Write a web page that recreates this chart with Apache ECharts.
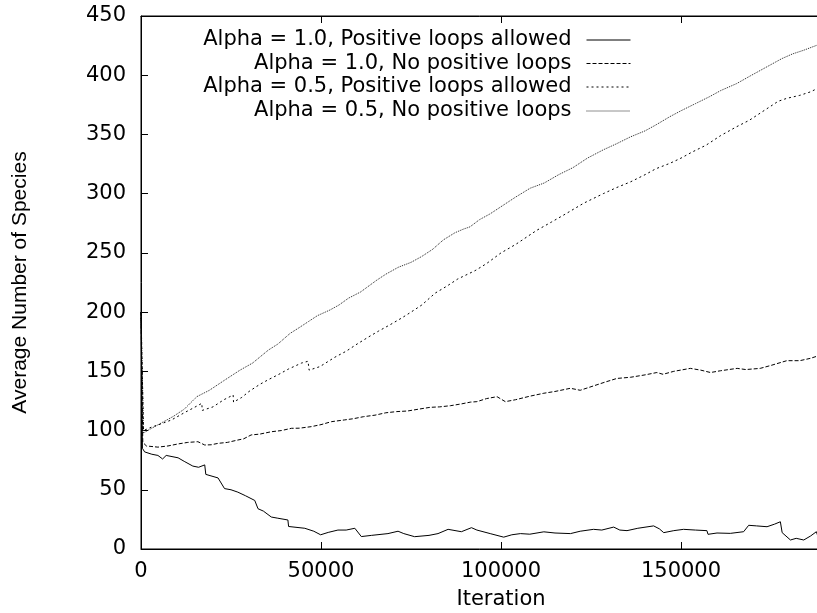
<!DOCTYPE html>
<html>
<head>
<meta charset="utf-8">
<script src="https://cdn.jsdelivr.net/npm/echarts@6/dist/echarts.min.js"></script>
<style>html,body{margin:0;padding:0;background:#fff}#c{width:817px;height:613px}</style>
</head>
<body>
<div id="c"></div>
<script>
const seriesNames = [
  'Alpha = 1.0, Positive loops allowed',
  'Alpha = 1.0, No positive loops',
  'Alpha = 0.5, Positive loops allowed',
  'Alpha = 0.5, No positive loops'
];
const xTickValues = [0, 50000, 100000, 150000, 200000];
const yTickValues = [0, 50, 100, 150, 200, 250, 300, 350, 400, 450];

const s1Iter = [0,400,1000,3000,4700,6000,7000,10300,12000,14400,16000,17700,18000,21400,23200,25000,26900,29000,31600,32500,34000,36200,38000,40800,41000,45500,48000,49900,52000,54700,57000,59400,61200,64000,68600,71400,73000,76000,80000,82500,85300,89000,91800,93300,97000,100750,103000,105400,108000,111900,115000,119300,122000,125700,128000,131300,133000,135000,138000,142400,144000,145200,148000,150700,154000,157200,157500,160000,163700,167400,168800,171000,173900,176000,177600,178100,180400,182000,184100,186000,187600,188000];
const s1Vals = [200,85,82,80,79,76,79,77,74,70,69,71,63,60,51,50,48,45,41,34,32,27,26,24.5,19,17.5,15,12,14,16,16,17.5,10.5,11.5,13,15,13,10.4,11.5,13,16.6,14.6,18,16,13,10,12,13,12.5,14.5,13.5,13,15,16.6,16,18.5,16,15.5,17.5,19.5,17,13.8,15.5,16.6,16,15.5,12.4,13.5,13.2,14.6,20,19.5,18.8,21,23,13.8,7.6,9,7.6,11,14.6,11];

const s2Iter = [0,500,1500,4700,7500,10300,13000,15800,17700,19500,21400,24000,26900,28500,30600,33000,36200,39000,41800,44000,47300,50000,52900,56600,59000,61800,65000,68000,71000,74000,77000,80300,83000,86000,89000,91500,93300,96000,98900,101200,104000,108000,111900,115000,119300,122000,126000,129000,132200,136000,140000,143300,145000,148000,152600,155500,158200,161000,165600,168000,172000,175000,179400,183000,186000,188000];
const s2Vals = [200,90,87,86,87,88.7,90,90.6,87.8,88,89.2,90,92,93,96.3,97,99,100,101.9,102,103.3,105,107.5,109,110,111.7,113,115,116,116.5,118,119.6,120,121,122.5,124,124.4,127,128.6,124.4,126,129,131.5,133,135.7,134,138,141,144,145,147,149,147.5,150,152.5,151,149,150.5,152.5,151.5,152.5,155,159,159,161,163];

const s3Iter = [0,700,3000,5000,8500,12000,14500,16900,17000,20000,23000,25600,25700,28000,30000,33000,35400,38000,41000,44600,46400,46700,49700,53900,57000,60000,63200,66000,69000,72400,75000,78000,81700,85000,88000,92800,96000,100000,104000,109900,114000,118000,123000,128400,132000,136000,140000,143000,146900,150000,153000,157000,161000,165500,169000,172000,175000,177000,179400,183000,186000,188000];
const s3Vals = [200,100,103,105,109,115,119,123,117,120,126,130,124,128,133,139,143,147,152,157,158.5,151,154,162,167,173,179,184,189,195,200,206,216,222,228,235,241,250,257,269,276,283,292,300,305,310,316,321,325.6,330,335,341,349,356.6,362,368,374,378,380.5,383,386,389];

const s4Iter = [0,700,3000,6000,9000,12000,15500,19000,23300,27500,31000,35400,38000,41400,44000,46500,49000,52500,55000,57600,61000,65500,68000,71500,75000,78000,81000,84000,87200,89500,91400,94000,97000,100000,104000,108100,112000,116000,120000,124000,128400,132000,136000,140000,143000,146900,150000,154000,158000,161000,165500,169000,172000,175000,178000,181000,184000,188000];
const s4Vals = [200,98,102,107,112,118,128.6,134,142.7,151,157,168,173,182,187,192,197,201.8,206,211.7,217,227,232,237.9,242,247,253,261,267,270,272,278,283,289,297,304.6,309,316,322,330,337,342,348,353,358,365,370,376,382,387,393,399,404,409,414,418,421,425.6];

function pairs(xs, ys) { return xs.map((x, i) => [x, ys[i]]); }

const iters = [s1Iter, s2Iter, s3Iter, s4Iter];
const vals = [s1Vals, s2Vals, s3Vals, s4Vals];
const dashTypes = ['solid', [4, 2], [2, 3], [1, 1]];
const colors = ['#000', '#000', '#000', '#222'];

const series = seriesNames.map((name, i) => ({
  name: name,
  type: 'line',
  data: pairs(iters[i], vals[i]),
  showSymbol: false,
  symbol: 'none',
  symbolSize: 0,
  lineStyle: { color: colors[i], width: 1, type: dashTypes[i] },
  itemStyle: { color: colors[i] },
  emphasis: { disabled: true },
  z: 4 - i
}));

const legendTops = [29.5, 53, 76.5, 100.5];
const legends = seriesNames.map((name, i) => ({
  data: [name],
  orient: 'vertical',
  align: 'right',
  right: 186,
  top: legendTops[i],
  padding: 0,
  itemWidth: 44,
  itemHeight: 14,
  selectedMode: false,
  itemStyle: { color: 'transparent', borderColor: 'transparent', borderWidth: 0, opacity: 0 },
  lineStyle: { width: 1 },
  textStyle: { fontFamily: 'DejaVu Sans', fontSize: 21, color: '#000', padding: [0, 10, 0, 0] }
}));

const chart = echarts.init(document.getElementById('c'), null, { renderer: 'canvas' });
chart.setOption({
  animation: false,
  backgroundColor: '#fff',
  textStyle: { fontFamily: 'DejaVu Sans' },
  grid: { left: 141, top: 16, width: 720, height: 533, outerBoundsMode: 'none', containLabel: false, show: true, borderColor: '#000', borderWidth: 1, backgroundColor: 'transparent' },
  legend: legends,
  xAxis: [{
    type: 'value', position: 'bottom',
    min: xTickValues[0], max: xTickValues[xTickValues.length - 1], interval: 50000,
    axisLine: { show: true, onZero: false, lineStyle: { color: '#000', width: 1 } },
    axisTick: { show: true, inside: true, length: 7, lineStyle: { color: '#000' } },
    splitLine: { show: false },
    axisLabel: { color: '#000', fontSize: 21, fontFamily: 'DejaVu Sans', margin: 12, formatter: v => String(v) },
    name: 'Iteration', nameLocation: 'middle', nameGap: 40,
    nameTextStyle: { color: '#000', fontSize: 21, fontFamily: 'DejaVu Sans' }
  }, {
    type: 'value', position: 'top',
    min: xTickValues[0], max: xTickValues[xTickValues.length - 1], interval: 50000,
    axisLine: { show: true, onZero: false, lineStyle: { color: '#000', width: 1 } },
    axisTick: { show: true, inside: true, length: 7, lineStyle: { color: '#000' } },
    splitLine: { show: false },
    axisLabel: { show: false }
  }],
  yAxis: {
    type: 'value',
    min: yTickValues[0], max: yTickValues[yTickValues.length - 1], interval: 50,
    axisLine: { show: true, onZero: false, lineStyle: { color: '#000', width: 1 } },
    axisTick: { show: true, inside: true, length: 7, lineStyle: { color: '#000' } },
    splitLine: { show: false },
    axisLabel: { color: '#000', fontSize: 21, fontFamily: 'DejaVu Sans', margin: 15 },
    name: 'Average Number of Species', nameLocation: 'middle', nameGap: 110,
    nameTextStyle: { color: '#000', fontSize: 21, fontFamily: 'Liberation Sans' }
  },
  series: series
});
</script>
</body>
</html>
